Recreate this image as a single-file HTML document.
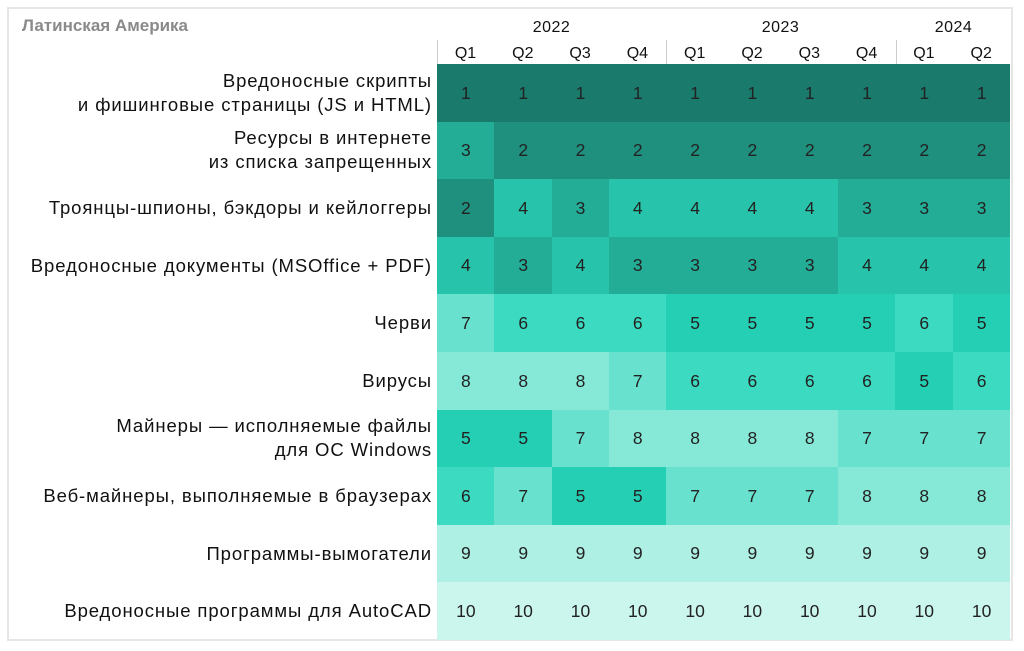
<!DOCTYPE html>
<html><head><meta charset="utf-8"><style>
body{margin:0;width:1024px;height:651px;background:#fff;position:relative;overflow:hidden;font-family:"Liberation Sans","DejaVu Sans",sans-serif;}
.frame{position:absolute;left:7px;top:7px;width:1006px;height:634px;border:2px solid #e6e6e6;box-sizing:border-box;}
.t{position:absolute;left:22px;top:16px;font-size:17px;font-weight:bold;color:#8a8a8a;}
.yr{position:absolute;top:19px;font-size:16px;color:#111;text-align:center;letter-spacing:0.5px;}
.q{position:absolute;top:45px;width:57px;text-align:center;font-size:16px;color:#111;}
.vl{position:absolute;top:40px;width:1px;height:24px;background:#ccc;}
.lab{position:absolute;right:592px;text-align:right;font-size:18.5px;letter-spacing:0.9px;color:#111;line-height:24px;display:flex;align-items:center;justify-content:flex-end;}
.c{position:absolute;width:57.3px;text-align:center;font-size:17.5px;color:#222;display:flex;align-items:center;justify-content:center;}
</style></head><body>
<div class="frame"></div>
<div class="t">Латинская Америка</div>
<div class="yr" style="left:437px;width:229px">2022</div>
<div class="yr" style="left:666px;width:229px">2023</div>
<div class="yr" style="left:896px;width:115px">2024</div>
<div class="vl" style="left:437px"></div><div class="vl" style="left:666px"></div><div class="vl" style="left:896px"></div>
<div id="g"></div>
<script>
const labels=[["Вредоносные скрипты","и фишинговые страницы (JS и HTML)"],["Ресурсы в интернете","из списка запрещенных"],["Троянцы-шпионы, бэкдоры и кейлоггеры"],["Вредоносные документы (MSOffice + PDF)"],["Черви"],["Вирусы"],["Майнеры — исполняемые файлы","для ОС Windows"],["Веб-майнеры, выполняемые в браузерах"],["Программы-вымогатели"],["Вредоносные программы для AutoCAD"]];
const d=[[1,1,1,1,1,1,1,1,1,1],[3,2,2,2,2,2,2,2,2,2],[2,4,3,4,4,4,4,3,3,3],[4,3,4,3,3,3,3,4,4,4],[7,6,6,6,5,5,5,5,6,5],[8,8,8,7,6,6,6,6,5,6],[5,5,7,8,8,8,8,7,7,7],[6,7,5,5,7,7,7,8,8,8],[9,9,9,9,9,9,9,9,9,9],[10,10,10,10,10,10,10,10,10,10]];
const col={1:"#1a7a6c",2:"#1f8f7e",3:"#23ad97",4:"#27c4ab",5:"#25cfb3",6:"#3cdac0",7:"#68e1ce",8:"#86e9d7",9:"#aef0e3",10:"#cbf6ee"};
const qs=["Q1","Q2","Q3","Q4","Q1","Q2","Q3","Q4","Q1","Q2"];
let h="";const x0=437,cw=57.3,y0=64,rh=57.6;
qs.forEach((q,i)=>h+=`<div class="q" style="left:${x0+i*cw}px">${q}</div>`);
d.forEach((r,j)=>{const y=y0+j*rh;
h+=`<div class="lab" style="top:${y}px;height:${rh}px;width:430px"><div>${labels[j].join("<br>")}</div></div>`;
r.forEach((v,i)=>h+=`<div class="c" style="left:${x0+i*cw}px;top:${y}px;height:${rh+0.5}px;width:${cw+0.5}px;background:${col[v]}">${v}</div>`);});
document.getElementById("g").innerHTML=h;
</script>
</body></html>
